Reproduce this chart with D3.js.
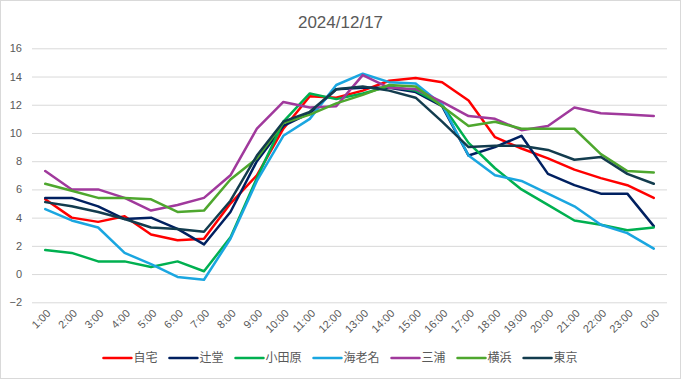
<!DOCTYPE html>
<html>
<head>
<meta charset="utf-8">
<script src="https://cdn.jsdelivr.net/npm/d3@7"></script>
<style>
    body { margin: 0; background: #fff; }
    svg { display: block; font-family: "Liberation Sans", "Noto Sans CJK JP", sans-serif; }
</style>
</head>
<body>
<div id="container"></div>
<script>
let hours = ["1:00", "2:00", "3:00", "4:00", "5:00", "6:00", "7:00", "8:00", "9:00", "10:00", "11:00", "12:00",
    "13:00", "14:00", "15:00", "16:00", "17:00", "18:00", "19:00", "20:00", "21:00", "22:00", "23:00", "0:00"]

let yTicks = [-2, 0, 2, 4, 6, 8, 10, 12, 14, 16]

let seriesNames = ["自宅", "辻堂", "小田原", "海老名", "三浦", "横浜", "東京"]

let jitaku   = [5.3, 4.0, 3.7, 4.1, 2.8, 2.4, 2.5, 5.0, 7.0, 10.3, 12.6, 12.5, 13.0, 13.7, 13.9, 13.6, 12.3, 9.7, 8.9, 8.2, 7.4, 6.8, 6.3, 5.4]
let tsujido  = [5.4, 5.4, 4.8, 3.9, 4.0, 3.2, 2.1, 4.4, 8.0, 10.5, 11.4, 13.1, 13.2, 13.2, 12.9, 11.9, 8.4, 9.0, 9.8, 7.1, 6.3, 5.7, 5.7, 3.4]
let odawara  = [1.7, 1.5, 0.9, 0.9, 0.5, 0.9, 0.2, 2.6, 6.8, 10.8, 12.8, 12.4, 12.8, 13.3, 13.0, 12.0, 9.3, 7.5, 6.0, 4.9, 3.8, 3.5, 3.1, 3.3]
let ebina    = [4.6, 3.8, 3.3, 1.5, 0.7, -0.2, -0.4, 2.5, 6.6, 9.8, 11.0, 13.4, 14.2, 13.6, 13.5, 12.0, 8.4, 7.0, 6.6, 5.7, 4.8, 3.5, 2.9, 1.8]
let miura    = [7.3, 6.0, 6.0, 5.4, 4.5, 4.9, 5.4, 7.0, 10.3, 12.2, 11.8, 11.9, 14.1, 13.2, 13.1, 12.2, 11.2, 11.0, 10.2, 10.5, 11.8, 11.4, 11.3, 11.2]
let yokohama = [6.4, 5.9, 5.4, 5.4, 5.3, 4.4, 4.5, 6.7, 8.2, 10.7, 11.3, 12.1, 12.7, 13.4, 13.3, 11.9, 10.5, 10.8, 10.3, 10.3, 10.3, 8.5, 7.3, 7.2]
let tokyo    = [5.1, 4.8, 4.4, 3.9, 3.3, 3.2, 3.0, 5.2, 8.4, 10.8, 11.5, 13.1, 13.3, 13.0, 12.5, 10.8, 9.0, 9.1, 9.1, 8.8, 8.1, 8.3, 7.1, 6.4]

let seriesValues = [jitaku, tsujido, odawara, ebina, miura, yokohama, tokyo]
let colors = ["#ff0000", "#002060", "#00b050", "#1aa6e0", "#a0399c", "#4ea72e", "#133c4e"]

function drawChart() {
    let width = 681
    let height = 379
    let margin = {top: 48.3, right: 14, bottom: 76.7, left: 32}
    let textColor = "#595959"

    let series = seriesNames.map((name, i) => ({
        name: name,
        color: colors[i],
        values: seriesValues[i].map((v, j) => ({hour: hours[j], value: v}))
    }))

    let svg = d3.select("#container")
        .append("svg")
        .attr("width", width)
        .attr("height", height)
        .attr("viewBox", [0, 0, width, height])

    svg.append("rect")
        .attr("x", 0.5)
        .attr("y", 0.5)
        .attr("width", width - 1)
        .attr("height", height - 1)
        .attr("fill", "#fff")
        .attr("stroke", "#d9d9d9")

    let x = d3.scalePoint()
        .domain(hours)
        .range([margin.left, width - margin.right])
        .padding(0.5)

    let y = d3.scaleLinear()
        .domain([-2, 16])
        .range([height - margin.bottom, margin.top])

    svg.append("text")
        .attr("x", width / 2)
        .attr("y", 28)
        .attr("text-anchor", "middle")
        .attr("fill", textColor)
        .attr("font-size", 17)
        .text("2024/12/17")

    svg.append("g")
        .attr("transform", `translate(${margin.left},0)`)
        .call(d3.axisLeft(y).tickValues(yTicks).tickSize(-(width - margin.left - margin.right)).tickPadding(10))
        .call(g => g.select(".domain").remove())
        .call(g => g.selectAll(".tick line").attr("stroke", "#d9d9d9"))
        .call(g => g.selectAll(".tick text")
            .attr("fill", textColor)
            .attr("font-size", 11)
            .attr("font-family", "Liberation Sans, sans-serif"))

    svg.append("g")
        .attr("transform", `translate(0,${height - margin.bottom})`)
        .call(d3.axisBottom(x).tickSize(0).tickPadding(0))
        .call(g => g.select(".domain").remove())
        .call(g => g.selectAll(".tick text")
            .attr("fill", textColor)
            .attr("font-size", 11)
            .attr("text-anchor", "end")
            .attr("dy", "0.35em")
            .attr("transform", "translate(3,9) rotate(-45)"))

    let line = d3.line()
        .x(d => x(d.hour))
        .y(d => y(d.value))

    svg.append("g")
        .attr("fill", "none")
        .attr("stroke-width", 2.5)
        .attr("stroke-linejoin", "round")
        .attr("stroke-linecap", "round")
        .selectAll("path")
        .data(series)
        .join("path")
            .attr("stroke", d => d.color)
            .attr("d", d => line(d.values))

    let legend = svg.append("g")
        .attr("font-size", 12)
        .attr("fill", textColor)

    let item = legend.selectAll("g")
        .data(series)
        .join("g")

    item.append("line")
        .attr("x1", 0)
        .attr("x2", 28)
        .attr("y1", 0)
        .attr("y2", 0)
        .attr("stroke", d => d.color)
        .attr("stroke-width", 2.5)
        .attr("stroke-linecap", "round")

    item.append("text")
        .attr("x", 30)
        .attr("dy", "0.35em")
        .text(d => d.name)

    let gap = 12
    let pos = 0
    item.each(function() {
        let w = d3.select(this).select("text").node().getComputedTextLength()
        d3.select(this).attr("transform", `translate(${pos},0)`)
        pos += 30 + w + gap
    })
    pos -= gap

    legend.attr("transform", `translate(${(width - pos) / 2},358)`)

    return svg.node()
}

drawChart()
</script>
</body>
</html>
